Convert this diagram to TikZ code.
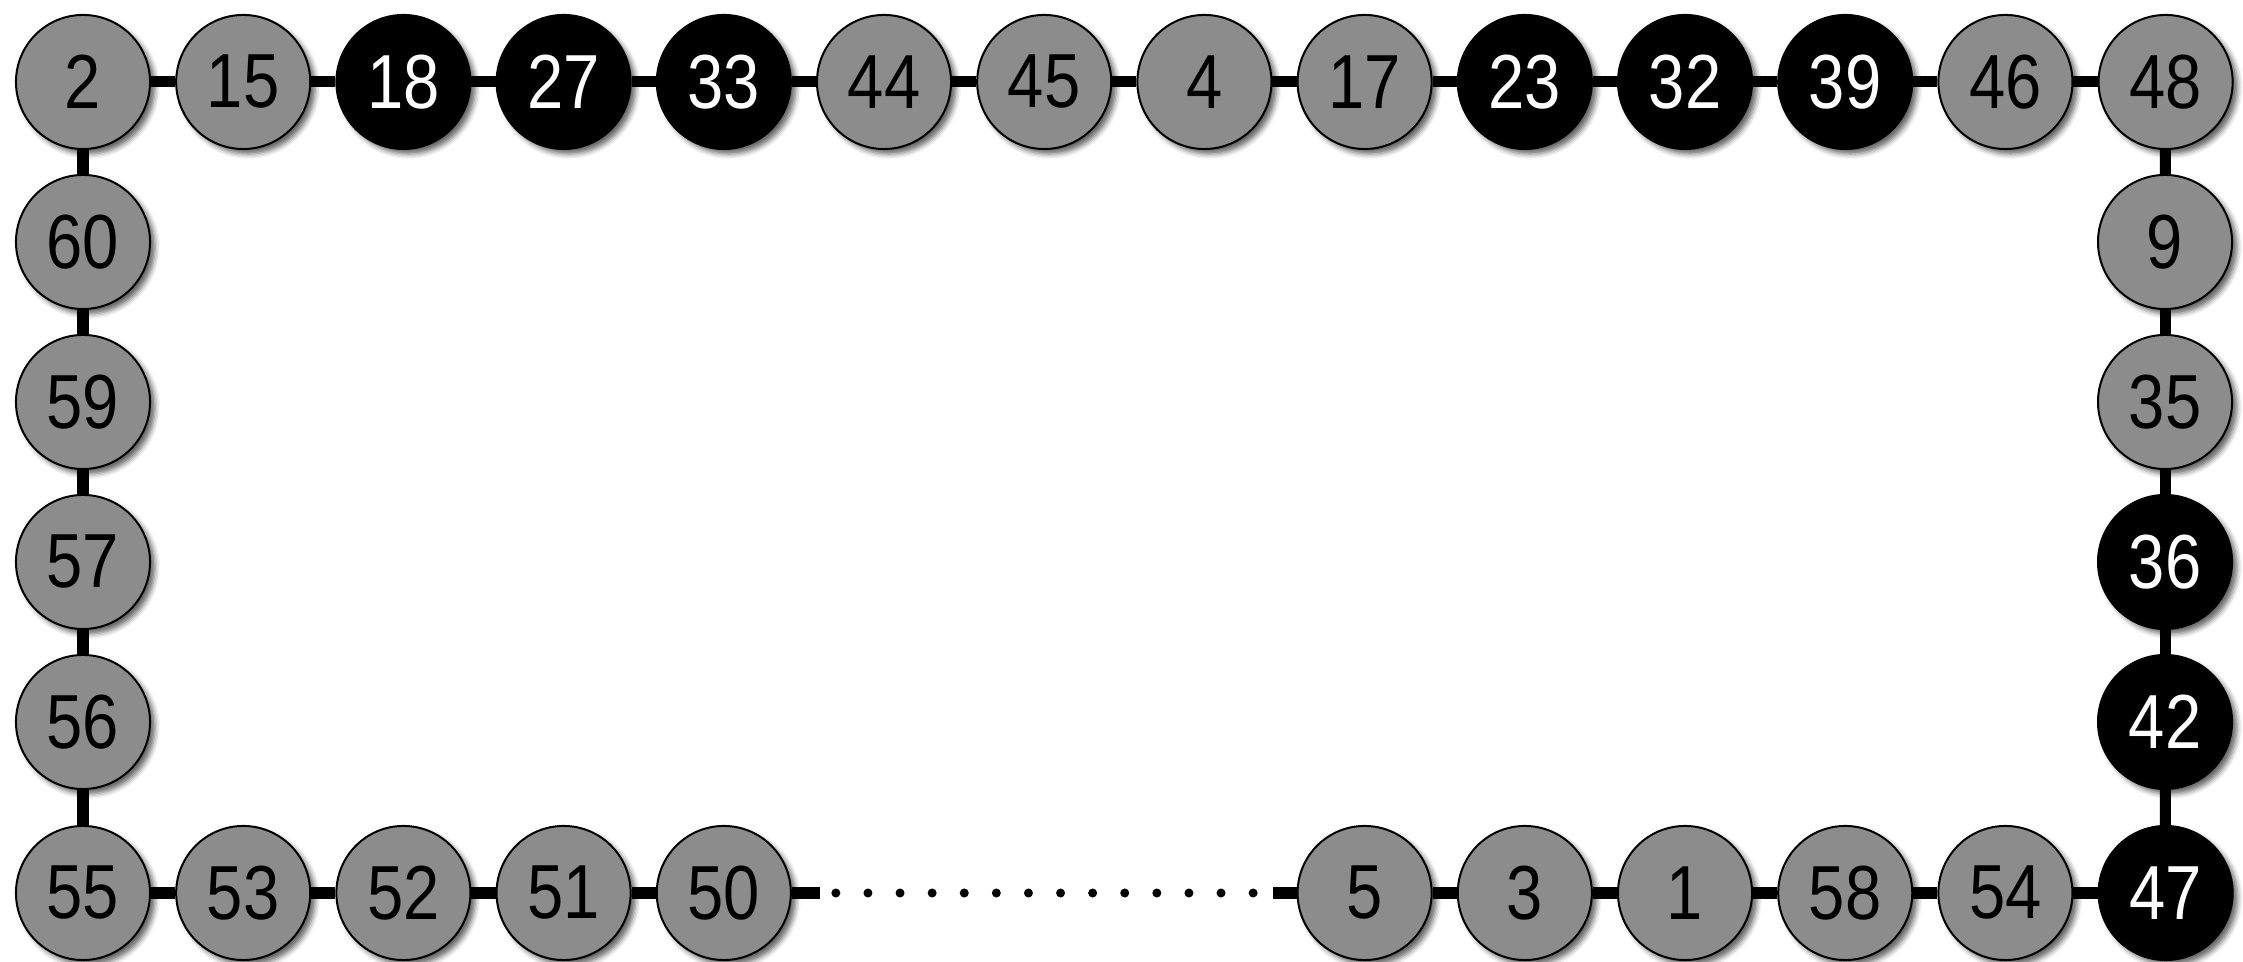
\documentclass[tikz,border=0pt]{standalone}
\usepackage{fontspec}
\setmainfont{Liberation Sans}[FakeStretch=0.85]
\usetikzlibrary{shadows.blur,backgrounds,calc}
\definecolor{nodegray}{RGB}{140,140,140}
\begin{document}
\begin{tikzpicture}[x=0.01cm,y=-0.01cm,
  base/.style={circle,minimum size=1.34cm,inner sep=0pt,draw=black,line width=0.02cm,
    font=\fontsize{21.8}{24}\selectfont,
    blur shadow={shadow xshift=0.05cm,shadow yshift=-0.05cm,shadow blur radius=0.05cm,shadow opacity=60}},
  gnode/.style={base,fill=nodegray,text=black},
  bnode/.style={base,fill=black,text=white},
  edge/.style={line width=0.11cm},
  dotline/.style={line width=0.09cm,line cap=round,dash pattern=on 0pt off 0.3208cm}]
\useasboundingbox (0,0) rectangle (2243,962);
% top row
\foreach \lab/\st [count=\i from 0] in {2/gnode,15/gnode,18/bnode,27/bnode,33/bnode,44/gnode,45/gnode,4/gnode,17/gnode,23/bnode,32/bnode,39/bnode,46/gnode,48/gnode}
  \node[\st] (n\lab) at ({83+160.2*\i},82) {\lab};
% left column
\foreach \lab/\yy in {60/242,59/402,57/562,56/722}
  \node[gnode] (n\lab) at (83,\yy) {\lab};
% right column
\foreach \lab/\st/\yy in {9/gnode/242,35/gnode/402,36/bnode/562,42/bnode/722}
  \node[\st] (n\lab) at (2165,\yy) {\lab};
% bottom row
\foreach \lab/\st/\i in {55/gnode/0,53/gnode/1,52/gnode/2,51/gnode/3,50/gnode/4,5/gnode/8,3/gnode/9,1/gnode/10,58/gnode/11,54/gnode/12,47/bnode/13}
  \node[\st] (n\lab) at ({83+160.2*\i},893) {\lab};
\coordinate (da) at ($(n50.east)+(28,0)$);
\coordinate (db) at ($(n5.west)+(-24,0)$);
\begin{scope}[on background layer]
  \foreach \a/\b in {2/15,15/18,18/27,27/33,33/44,44/45,45/4,4/17,17/23,23/32,32/39,39/46,46/48,
      2/60,60/59,59/57,57/56,56/55,
      48/9,9/35,35/36,36/42,42/47,
      55/53,53/52,52/51,51/50,
      5/3,3/1,1/58,58/54,54/47}
    \draw[edge] (n\a) -- (n\b);
  \draw[edge] (n50) -- (da);
  \draw[edge] (db) -- (n5);
  \draw[dotline] ($(da)+(16,0)$) -- ($(db)+(-14,0)$);
\end{scope}
\end{tikzpicture}
\end{document}
